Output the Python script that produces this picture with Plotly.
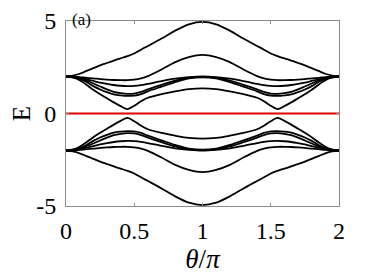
import plotly.graph_objects as go

THETA = [0, 0.05, 0.1, 0.15, 0.2, 0.25, 0.3, 0.35, 0.4, 0.45, 0.5, 0.55, 0.6, 0.7, 0.8, 0.9, 1.0,
         1.1, 1.2, 1.3, 1.4, 1.45, 1.5, 1.55, 1.6, 1.65, 1.7, 1.75, 1.8, 1.85, 1.9, 1.95, 2.0]

BAND_A = [2.0, 2.05, 2.15, 2.3, 2.45, 2.6, 2.73, 2.86, 2.98, 3.1, 3.24, 3.45, 3.65, 4.05, 4.48, 4.82, 4.95,
          4.82, 4.48, 4.05, 3.65, 3.45, 3.24, 3.1, 2.98, 2.86, 2.73, 2.6, 2.45, 2.3, 2.15, 2.05, 2.0]
BAND_B = [2.0, 1.99, 1.97, 1.93, 1.9, 1.86, 1.83, 1.81, 1.8, 1.8, 1.83, 1.9, 2.02, 2.38, 2.78, 3.05, 3.17,
          3.05, 2.78, 2.38, 2.02, 1.9, 1.83, 1.8, 1.8, 1.81, 1.83, 1.86, 1.9, 1.93, 1.97, 1.99, 2.0]
BAND_C = [2.0, 1.98, 1.93, 1.85, 1.76, 1.67, 1.6, 1.54, 1.5, 1.48, 1.49, 1.53, 1.6, 1.75, 1.88, 1.96, 2.0,
          1.96, 1.88, 1.75, 1.6, 1.53, 1.49, 1.48, 1.5, 1.54, 1.6, 1.67, 1.76, 1.85, 1.93, 1.98, 2.0]
BAND_D = [2.0, 1.97, 1.9, 1.77, 1.62, 1.46, 1.3, 1.17, 1.1, 1.06, 1.08, 1.17, 1.3, 1.55, 1.78, 1.93, 1.98,
          1.93, 1.78, 1.55, 1.3, 1.17, 1.08, 1.06, 1.1, 1.17, 1.3, 1.46, 1.62, 1.77, 1.9, 1.97, 2.0]
BAND_E = [2.0, 1.96, 1.87, 1.7, 1.48, 1.3, 1.15, 1.03, 0.98, 0.95, 0.97, 1.05, 1.2, 1.45, 1.7, 1.9, 1.96,
          1.9, 1.7, 1.45, 1.2, 1.05, 0.97, 0.95, 0.98, 1.03, 1.15, 1.3, 1.48, 1.7, 1.87, 1.96, 2.0]
BAND_F = [2.0, 1.95, 1.8, 1.56, 1.28, 1.04, 0.82, 0.6, 0.4, 0.24, 0.42, 0.66, 0.85, 1.05, 1.2, 1.32, 1.36,
          1.32, 1.2, 1.05, 0.85, 0.66, 0.42, 0.24, 0.4, 0.6, 0.82, 1.04, 1.28, 1.56, 1.8, 1.95, 2.0]

UPPER = [BAND_A, BAND_B, BAND_C, BAND_D, BAND_E, BAND_F]
LOWER = [[-v for v in band] for band in UPPER]

X_TICKS = [0, 0.5, 1, 1.5, 2]
X_TICK_TEXT = ["0", "0.5", "1", "1.5", "2"]
Y_TICKS = [-5, 0, 5]
Y_TICK_TEXT = ["-5", "0", "5"]
ZERO_X = [0, 2]
ZERO_Y = [0, 0]

FONT = "Liberation Serif, Times New Roman, serif"

fig = go.Figure()
for band in UPPER + LOWER:
    fig.add_trace(go.Scatter(x=THETA, y=band, mode="lines",
                             line=dict(color="black", width=1.8, shape="spline", smoothing=0.8),
                             showlegend=False, hoverinfo="skip"))
fig.add_trace(go.Scatter(x=ZERO_X, y=ZERO_Y, mode="lines",
                         line=dict(color="#e00000", width=2),
                         showlegend=False, hoverinfo="skip"))

axis_common = dict(showgrid=False, zeroline=False, showline=True, linecolor="#8c8c8c",
                   linewidth=1, mirror="ticks", ticks="inside", ticklen=3, automargin=False,
                   tickcolor="#8c8c8c", tickfont=dict(family=FONT, size=24, color="black"))

fig.update_layout(
    width=374, height=280,
    margin=dict(l=58, r=43, t=13, b=82),
    paper_bgcolor="white", plot_bgcolor="white",
    xaxis=dict(range=[0, 2], tickvals=X_TICKS, ticktext=X_TICK_TEXT, ticklabelstandoff=3,
               title=dict(text="<i>θ</i>/<i>π</i>", font=dict(family=FONT, size=27, color="black"),
                          standoff=6),
               **axis_common),
    yaxis=dict(range=[-5, 5], tickvals=Y_TICKS, ticktext=Y_TICK_TEXT, ticklabelstandoff=4,
               title=dict(text="E", font=dict(family=FONT, size=25, color="black"), standoff=13),
               **axis_common),
    annotations=[dict(text="(a)", x=0.015, y=1.07, xref="paper", yref="paper",
                      xanchor="left", yanchor="top", showarrow=False,
                      font=dict(family=FONT, size=17, color="black"))],
)

fig.write_html("out.html")
